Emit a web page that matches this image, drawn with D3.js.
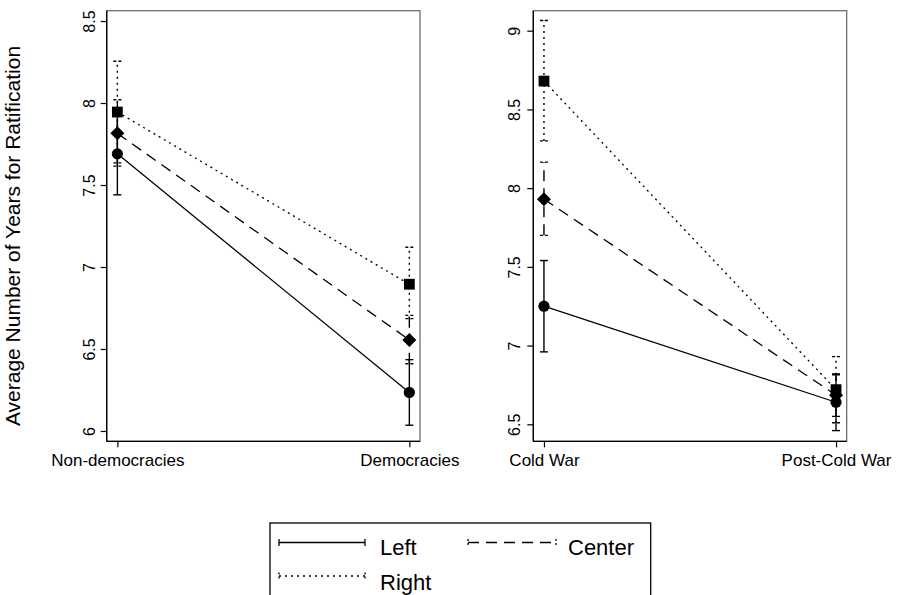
<!DOCTYPE html>
<html>
<head>
<meta charset="utf-8">
<script src="https://cdn.jsdelivr.net/npm/d3@7"></script>
<style>
  html, body { margin: 0; padding: 0; background: #fff; }
  svg { display: block; font-family: "Liberation Sans", Arial, Helvetica, sans-serif; }
</style>
</head>
<body>
<svg id="chart" width="900" height="595"></svg>
<script>
// ---------- DATA ----------
const seriesNames = ["Left", "Center", "Right"];

// Panel 1: regime type
const regimeCategories = ["Non-democracies", "Democracies"];
const regimeLeftMean    = [7.69, 6.235];
const regimeLeftLower   = [7.44, 6.035];
const regimeLeftUpper   = [7.945, 6.435];
const regimeCenterMean  = [7.815, 6.555];
const regimeCenterLower = [7.615, 6.41];
const regimeCenterUpper = [8.02, 6.705];
const regimeRightMean   = [7.945, 6.895];
const regimeRightLower  = [7.635, 6.685];
const regimeRightUpper  = [8.255, 7.12];
const regimeTicks = [6, 6.5, 7, 7.5, 8, 8.5];

// Panel 2: period
const periodCategories = ["Cold War", "Post-Cold War"];
const periodLeftMean    = [7.25, 6.64];
const periodLeftLower   = [6.96, 6.46];
const periodLeftUpper   = [7.54, 6.82];
const periodCenterMean  = [7.93, 6.685];
const periodCenterLower = [7.70, 6.55];
const periodCenterUpper = [8.165, 6.815];
const periodRightMean   = [8.68, 6.72];
const periodRightLower  = [8.30, 6.51];
const periodRightUpper  = [9.065, 6.93];
const periodTicks = [6.5, 7, 7.5, 8, 8.5, 9];

const yTitle = "Average Number of Years for Ratification";

// ---------- STYLE ----------
const dashBySeries = { Left: null, Center: "11,7", Right: "2,4" };
const markerBySeries = { Left: "circle", Center: "diamond", Right: "square" };

const svg = d3.select("#chart");

function buildSeries(cats, means, lows, highs) {
  return seriesNames.map((name, i) => ({
    name,
    points: cats.map((c, j) => ({ cat: c, mean: means[i][j], lo: lows[i][j], hi: highs[i][j] }))
  }));
}

function drawPanel(opts) {
  const { x0, x1, y0, y1, cats, domain, ticks, series, labelOffset } = opts;
  const g = svg.append("g");
  const x = d3.scalePoint().domain(cats).range([x0, x1]).padding(0.0365);
  const y = d3.scaleLinear().domain(domain).range([y1, y0]);

  // frame
  g.append("rect").attr("x", x0).attr("y", y0).attr("width", x1 - x0).attr("height", y1 - y0)
    .attr("fill", "none").attr("stroke", "#6e6e6e").attr("stroke-width", 1.3);

  // y axis
  const yAxis = d3.axisLeft(y).tickValues(ticks).tickSize(6).tickFormat(d => String(d));
  const ya = g.append("g").attr("transform", `translate(${x0},0)`).call(yAxis);
  ya.select(".domain").attr("stroke", "#000").attr("stroke-width", 1.3).attr("d", `M0,${y0}V${y1}`);
  ya.selectAll(".tick line").attr("stroke", "#000").attr("stroke-width", 1.2);
  ya.selectAll(".tick text")
    .attr("x", null).attr("dy", null)
    .attr("transform", `translate(${-labelOffset},0) rotate(-90)`)
    .attr("text-anchor", "middle")
    .attr("font-size", 16).attr("fill", "#000")
    .attr("font-family", '"Liberation Sans", Arial, sans-serif');

  // x axis
  const xAxis = d3.axisBottom(x).tickSize(6).tickPadding(6);
  const xa = g.append("g").attr("transform", `translate(0,${y1})`).call(xAxis);
  xa.select(".domain").attr("stroke", "#000").attr("stroke-width", 1.3).attr("d", `M${x0},0H${x1}`);
  xa.selectAll(".tick line").attr("stroke", "#000").attr("stroke-width", 1.2);
  xa.selectAll(".tick text").attr("dy", null).attr("y", 25).attr("font-size", 17).attr("fill", "#000")
    .attr("font-family", '"Liberation Sans", Arial, sans-serif');

  const line = d3.line().x(d => x(d.cat)).y(d => y(d.mean));

  // connecting lines
  series.forEach(s => {
    g.append("path").datum(s.points).attr("d", line)
      .attr("fill", "none").attr("stroke", "#000").attr("stroke-width", 1.3)
      .attr("stroke-dasharray", dashBySeries[s.name]);
  });

  // error bars
  series.forEach(s => {
    s.points.forEach(p => {
      const cx = x(p.cat);
      g.append("line").attr("x1", cx).attr("x2", cx).attr("y1", y(p.lo)).attr("y2", y(p.hi))
        .attr("stroke", "#000").attr("stroke-width", 1.4)
        .attr("stroke-dasharray", dashBySeries[s.name]);
      [p.lo, p.hi].forEach(v => {
        g.append("line").attr("x1", cx - 4).attr("x2", cx + 4).attr("y1", y(v)).attr("y2", y(v))
          .attr("stroke", "#000").attr("stroke-width", 1.4)
          .attr("stroke-dasharray", dashBySeries[s.name] ? "3,2" : null);
      });
    });
  });

  // markers
  series.forEach(s => {
    s.points.forEach(p => {
      const cx = x(p.cat), cy = y(p.mean);
      const m = markerBySeries[s.name];
      if (m === "circle") {
        g.append("circle").attr("cx", cx).attr("cy", cy).attr("r", 5.6).attr("fill", "#000");
      } else if (m === "diamond") {
        const r = 7;
        g.append("path").attr("d", `M${cx},${cy - r}L${cx + r},${cy}L${cx},${cy + r}L${cx - r},${cy}Z`).attr("fill", "#000");
      } else {
        const h = 5.4;
        g.append("rect").attr("x", cx - h).attr("y", cy - h).attr("width", 2 * h).attr("height", 2 * h).attr("fill", "#000");
      }
    });
  });
}

drawPanel({
  x0: 106.7, x1: 420, y0: 10.7, y1: 441.3,
  cats: regimeCategories, domain: [5.937, 8.563], ticks: regimeTicks, labelOffset: 11.5,
  series: buildSeries(regimeCategories,
    [regimeLeftMean, regimeCenterMean, regimeRightMean],
    [regimeLeftLower, regimeCenterLower, regimeRightLower],
    [regimeLeftUpper, regimeCenterUpper, regimeRightUpper])
});

drawPanel({
  x0: 533.3, x1: 846.7, y0: 10.7, y1: 441.3,
  cats: periodCategories, domain: [6.392, 9.127], ticks: periodTicks, labelOffset: 13,
  series: buildSeries(periodCategories,
    [periodLeftMean, periodCenterMean, periodRightMean],
    [periodLeftLower, periodCenterLower, periodRightLower],
    [periodLeftUpper, periodCenterUpper, periodRightUpper])
});

// y title
svg.append("text").attr("transform", "translate(19.5,236) rotate(-90)")
  .attr("text-anchor", "middle").attr("font-size", 21).attr("fill", "#000").text(yTitle);

// legend
const lg = svg.append("g");
lg.append("rect").attr("x", 270).attr("y", 523).attr("width", 380.7).attr("height", 90)
  .attr("fill", "#fff").attr("stroke", "#000").attr("stroke-width", 1.3);

const legendItems = [
  { name: seriesNames[0], lx: 279, rx: 365, ly: 542.5, tx: 380, ty: 555 },
  { name: seriesNames[1], lx: 468, rx: 556, ly: 542.5, tx: 568, ty: 555 },
  { name: seriesNames[2], lx: 279, rx: 365, ly: 576, tx: 380, ty: 590 }
];
legendItems.forEach(it => {
  const dash = dashBySeries[it.name];
  lg.append("line").attr("x1", it.lx).attr("x2", it.rx).attr("y1", it.ly).attr("y2", it.ly)
    .attr("stroke", "#000").attr("stroke-width", 1.3).attr("stroke-dasharray", dash);
  [it.lx, it.rx].forEach(cx => {
    lg.append("line").attr("x1", cx).attr("x2", cx).attr("y1", it.ly - 3.5).attr("y2", it.ly + 3.5)
      .attr("stroke", "#000").attr("stroke-width", 1.3).attr("stroke-dasharray", dash ? "2,2" : null);
  });
  lg.append("text").attr("x", it.tx).attr("y", it.ty).attr("font-size", 22).attr("fill", "#000").text(it.name);
});
</script>
</body>
</html>
